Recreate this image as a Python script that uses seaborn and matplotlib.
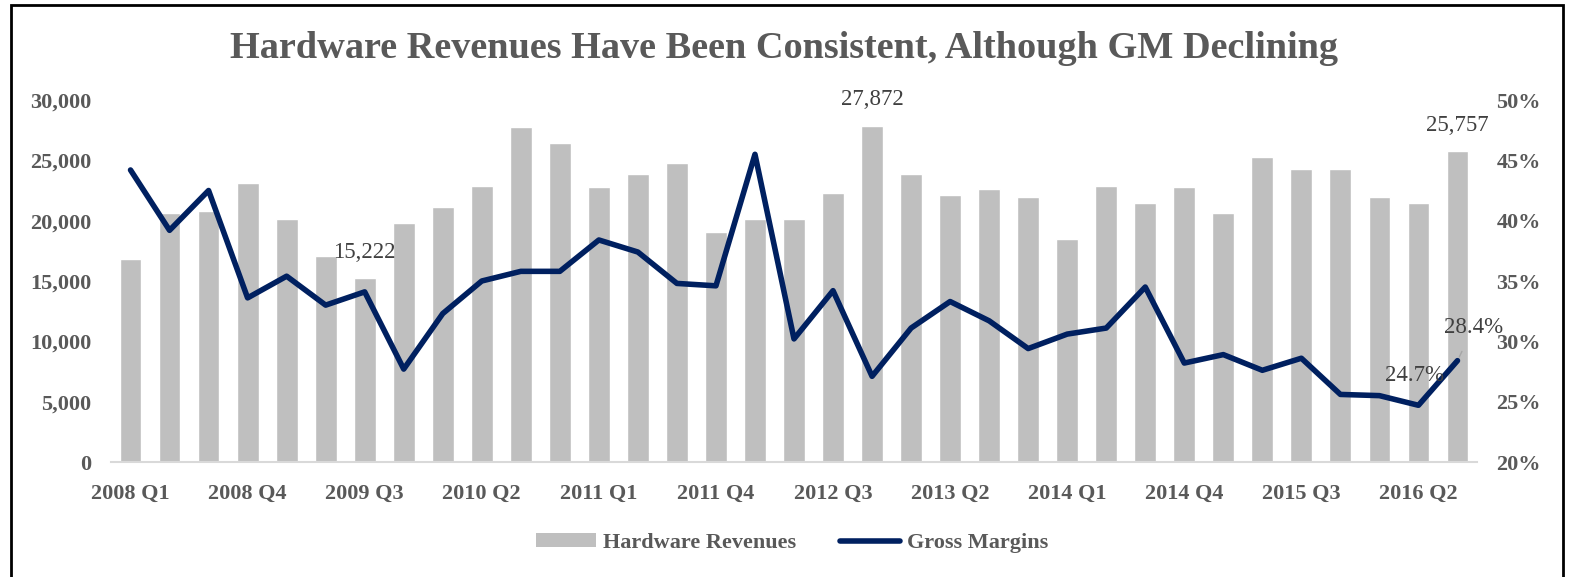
import numpy as np
import pandas as pd
import matplotlib
matplotlib.use("Agg")
import matplotlib.pyplot as plt
from matplotlib.patches import Patch, Rectangle
from matplotlib.lines import Line2D
from matplotlib.ticker import FuncFormatter
import seaborn as sns

quarters = [f"{y} Q{q}" for y in range(2008, 2017) for q in range(1, 5)][:35]
revenues = [16800, 20600, 20800, 23100, 20100, 17100, 15222, 19800, 21100, 22900,
            27800, 26400, 22800, 23900, 24800, 19100, 20100, 20100, 22300, 27872,
            23900, 22100, 22600, 22000, 18500, 22900, 21500, 22800, 20600, 25300,
            24300, 24300, 22000, 21500, 25757]
margins = [44.2, 39.2, 42.5, 33.6, 35.4, 33.0, 34.1, 27.7, 32.3, 35.0,
           35.8, 35.8, 38.4, 37.4, 34.8, 34.6, 45.5, 30.2, 34.2, 27.1,
           31.1, 33.3, 31.7, 29.4, 30.6, 31.1, 34.5, 28.2, 28.9, 27.6,
           28.6, 25.6, 25.5, 24.7, 28.4]
title = "Hardware Revenues Have Been Consistent, Although GM Declining"
bar_label = "Hardware Revenues"
line_label = "Gross Margins"

df = pd.DataFrame({"quarter": quarters, "revenue": revenues,
                   "margin": np.array(margins) / 100.0,
                   "idx": np.arange(len(quarters))})

sns.set_theme(style="white")
plt.rcParams["font.family"] = ["Liberation Serif", "DejaVu Serif"]

TICK = "#595959"
LBL = "#404040"
BAR = "#bfbfbf"
NAVY = "#002060"
LW = 4.0

W, H = 1569, 577
fig = plt.figure(figsize=(W / 100, H / 100), dpi=100)
ax = fig.add_axes([111 / W, 1 - 462 / H, (1477 - 111) / W, (462 - 100) / H])

sns.barplot(data=df, x="quarter", y="revenue", color=BAR, width=0.56,
            saturation=1, ax=ax, legend=False)
ax.set_xlim(-0.5, len(quarters) - 0.5)
ax.set_ylim(0, 30000)
ax.set_yticks(range(0, 30001, 5000))
ax.yaxis.set_major_formatter(FuncFormatter(lambda v, p: f"{int(v):,}"))
ax.set_xticks(range(0, len(quarters), 3))
ax.set_xticklabels(quarters[::3])
ax.set_xlabel("")
ax.set_ylabel("")
for s in ["top", "left", "right"]:
    ax.spines[s].set_visible(False)
ax.spines["bottom"].set_color("#d9d9d9")
ax.spines["bottom"].set_linewidth(1.5)
ax.tick_params(axis="both", length=0, labelsize=16, labelcolor=TICK)
ax.tick_params(axis="y", pad=14)
ax.tick_params(axis="x", pad=16)
for t in ax.get_xticklabels() + ax.get_yticklabels():
    t.set_fontweight("bold")

ax2 = ax.twinx()
sns.lineplot(data=df, x="idx", y="margin", color=NAVY, linewidth=LW, ax=ax2,
             legend=False)
ax2.set_ylim(0.20, 0.50)
ax2.set_yticks(np.arange(0.20, 0.501, 0.05))
ax2.yaxis.set_major_formatter(FuncFormatter(lambda v, p: f"{round(v * 100):d}%"))
ax2.set_xlim(-0.5, len(quarters) - 0.5)
ax2.set_ylabel("")
ax2.set_xlabel("")
for s in ["top", "left", "right", "bottom"]:
    ax2.spines[s].set_visible(False)
ax2.tick_params(axis="y", length=0, labelsize=16, labelcolor=TICK, pad=14)
for t in ax2.get_yticklabels():
    t.set_fontweight("bold")

# data labels on bars
for i in [6, 19, 34]:
    ax.annotate(f"{revenues[i]:,}", xy=(i, revenues[i]), xytext=(0, 26),
                textcoords="offset pixels", ha="center", va="center",
                fontsize=16.5, color=LBL)

# data labels on line
ax2.annotate(f"{margins[33]:.1f}%", xy=(33, margins[33] / 100), xytext=(-4, 30),
             textcoords="offset pixels", ha="center", va="center",
             fontsize=16.5, color=LBL)
ax2.annotate(f"{margins[34]:.1f}%", xy=(34, margins[34] / 100), xytext=(16, 33),
             textcoords="offset pixels", ha="center", va="center",
             fontsize=16.5, color=LBL,
             arrowprops=dict(arrowstyle="-", color="#a6a6a6", lw=1,
                             shrinkA=8, shrinkB=3))

fig.text(0.5, 1 - 48 / H, title, ha="center", va="center", fontsize=27.5,
         fontweight="bold", color=TICK)

handles = [Patch(facecolor=BAR, edgecolor="none"),
           Line2D([0], [0], color=NAVY, lw=LW, solid_capstyle="round")]
leg = fig.legend(handles, [bar_label, line_label], loc="center",
                 bbox_to_anchor=(792 / W, 1 - 543 / H), ncol=2, frameon=False,
                 handlelength=2.7, handleheight=0.55, handletextpad=0.3,
                 columnspacing=2.0, prop={"size": 16, "weight": "bold"})
for t in leg.get_texts():
    t.set_color(TICK)

fig.patches.append(Rectangle((11 / W, -0.05), (1563 - 11) / W, (H - 5) / H + 0.05 - 0.0001,
                             transform=fig.transFigure, fill=False,
                             edgecolor="black", linewidth=2))

fig.savefig("out.png", dpi=100)
